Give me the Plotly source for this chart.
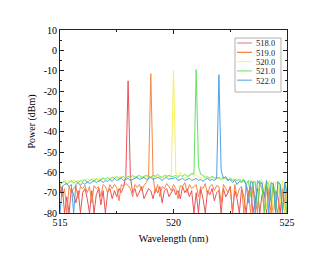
import plotly.graph_objects as go

wavelength = [round(515 + 0.1 * i, 1) for i in range(101)]

p518 = [-70,-67,-80,-72,-80,-68,-71,-75,-69,-80,
        -70,-68,-73,-80,-69,-80,-71,-68,-76,-69,
        -80,-70,-68,-73,-69,-72,-68,-70,-67,-62,
        -15,-62,-70,-68,-72,-69,-67,-73,-70,-68,
        -69,-73,-68,-70,-67,-75,-69,-68,-72,-70,
        -68,-71,-69,-73,-67,-70,-68,-72,-69,-80,
        -70,-80,-68,-73,-80,-69,-71,-68,-74,-70,
        -69,-80,-68,-72,-70,-67,-80,-69,-73,-80,
        -68,-72,-80,-70,-67,-80,-74,-68,-80,-71,
        -70,-80,-68,-74,-80,-69,-72,-80,-68,-75,-80]

p519 = [-66,-72,-68,-80,-67,-70,-68,-66.5,-73,-67,
        -68,-66.5,-70,-67,-75,-66.5,-68,-67,-72,-66,
        -67,-70,-66,-68,-66,-67.5,-74,-66,-67,-65.5,
        -66.5,-68,-72,-66,-67.5,-66,-69,-66.5,-65,-63,
        -11.5,-62,-70,-66,-72,-67,-68,-65.5,-67,-69,
        -66,-68,-73,-66.5,-67,-65,-70,-66,-68,-67,
        -66,-72,-67,-68,-65.5,-71,-67,-66,-69,-66.5,
        -67,-75,-66,-68,-70,-67,-80,-66,-72,-68,
        -67,-80,-66,-70,-80,-67,-74,-80,-66,-68,
        -80,-67,-72,-80,-66,-75,-80,-67,-70,-80,-68]

p520 = [-64,-65.5,-63.5,-65,-64,-65,-63.5,-64.5,-64,-65,
        -63.5,-64.5,-63,-64,-63.5,-63,-64,-63,-63.5,-62.5,
        -63,-63.5,-62.5,-63,-62,-63,-62.5,-62,-63,-62.5,
        -62,-63,-62.5,-62,-63,-62.5,-62,-63,-62,-62.5,
        -62,-62.5,-61.5,-62.5,-62,-63,-62,-61.5,-62.5,-61,
        -10,-60,-62,-60,-61,-63,-62.5,-62,-61,-62,
        -61,-62.5,-63,-62,-63,-62.5,-63,-62,-63.5,-62.5,
        -63,-62.5,-63.5,-63,-64,-62.5,-63.5,-64,-63,-64,
        -63,-64,-64.5,-65,-63.5,-66,-64,-72,-65,-64,
        -66,-78,-64,-65,-80,-64.5,-66,-75,-64,-80,-66]

p521 = [-66,-65,-64.5,-66,-65,-64,-65.5,-64.5,-65,-64,
        -64.5,-63.5,-65,-64,-63.5,-64.5,-63,-64,-63.5,-63,
        -63.5,-62.5,-63.5,-62.5,-63,-62,-63,-62.5,-62,-63,
        -62,-62.5,-61.5,-62.5,-62,-61.5,-62.5,-62,-61.5,-62,
        -62.5,-61.5,-62,-61,-62,-62.5,-61.5,-62,-61.5,-62,
        -62,-61.5,-62.5,-61.5,-62,-61,-62,-61.5,-60.5,-61,
        -9.5,-57,-61,-61.5,-62.5,-62,-63,-62,-62.5,-63,
        -62.5,-63.5,-62.5,-63,-64,-63,-64,-63.5,-64,-63.5,
        -64.5,-63.5,-66,-64,-72,-64.5,-65,-78,-64,-66,
        -80,-64.5,-66,-74,-65,-80,-65,-66,-79,-65,-80]

p522 = [-80,-67,-66,-65.5,-67,-66,-80,-66,-65,-66.5,
        -65,-66,-64.5,-65.5,-65,-64,-65,-64.5,-64,-65,
        -64,-64.5,-63.5,-64.5,-63,-64,-63.5,-63,-64,-63.5,
        -63,-64,-63.5,-63,-62.5,-63.5,-63,-62.5,-63.5,-63,
        -62.5,-63.5,-63,-62.5,-63,-64,-63,-62.5,-63.5,-63,
        -63,-62.5,-64,-63.5,-63,-64,-63.5,-63,-64,-63.5,
        -63,-64,-63.5,-64.5,-63.5,-63,-64,-63.5,-64,-63,
        -12,-59,-63,-62,-64,-63.5,-65,-64,-66,-64.5,
        -65,-64,-66,-75,-64.5,-65,-80,-64,-66,-65,
        -72,-64,-80,-65,-66,-80,-64.5,-66,-80,-65,-70]

series_names = ["518.0", "519.0", "520.0", "521.0", "522.0"]
series_values = [p518, p519, p520, p521, p522]
colors = ["#e8404a", "#f47c32", "#f4f050", "#52e052", "#3f97e2"]
legend_colors = ["#f08a8e", "#f47c32", "#f8f47a", "#7ee47e", "#6ab0ec"]

y_ticks = [10, 0, -10, -20, -30, -40, -50, -60, -70, -80]
y_ticktext = ["10", "0", "-10", "-20", "-30", "-40", "-50", "-60", "-70", "-80"]
x_ticks = [515, 520, 525]

fig = go.Figure()
for name, vals, c in zip(series_names, series_values, colors):
    fig.add_trace(go.Scatter(x=wavelength, y=vals, mode="lines", name=name,
                             line=dict(color=c, width=1), opacity=0.9,
                             showlegend=False))

font_family = "Liberation Serif"
text_color = "#000000"

# manual legend (paper coords inside plot area 60..287 x 30..213)
W, H, L, T = 227.0, 183.0, 60.0, 30.0
def px(xp):
    return (xp - L) / W
def py(yp):
    return 1 - (yp - T) / H

shapes = [dict(type="rect", xref="paper", yref="paper",
               x0=px(235), x1=px(281), y0=py(92), y1=py(38),
               line=dict(color="#b0b0b0", width=1), fillcolor="white", layer="above")]
annotations = []
for k, (name, lc) in enumerate(zip(series_names, legend_colors)):
    yy = 43 + 9.3 * k
    shapes.append(dict(type="line", xref="paper", yref="paper",
                       x0=px(237), x1=px(252), y0=py(yy), y1=py(yy),
                       line=dict(color=lc, width=1.2), layer="above"))
    annotations.append(dict(xref="paper", yref="paper", x=px(255), y=py(yy),
                            text=name, showarrow=False, xanchor="left", yanchor="middle",
                            height=9, borderpad=0,
                            font=dict(family=font_family, size=8.5, color="#222")))

fig.update_layout(
    width=334, height=256,
    margin=dict(l=60, r=47, t=30, b=43),
    paper_bgcolor="white", plot_bgcolor="white",
    font=dict(family=font_family, size=10, color=text_color),
    showlegend=False,
    shapes=shapes, annotations=annotations,
    xaxis=dict(range=[515, 525], tickvals=x_ticks, ticktext=[str(v) for v in x_ticks],
               ticks="inside", ticklen=4, tickcolor="#222", showline=True, linecolor="#222",
               linewidth=1, mirror="ticks", showgrid=False, zeroline=False,
               tickfont=dict(family=font_family, size=10, color=text_color),
               minor=dict(ticks="inside", dtick=2.5, tick0=515, ticklen=2, tickcolor="#222"),
               title=dict(text="Wavelength (nm)", font=dict(family=font_family, size=10, color=text_color), standoff=7)),
    yaxis=dict(range=[-80, 10], tickvals=y_ticks, ticktext=y_ticktext,
               ticks="inside", ticklen=4, tickcolor="#222", showline=True, linecolor="#222",
               linewidth=1, mirror="ticks", showgrid=False, zeroline=False,
               tickfont=dict(family=font_family, size=10, color=text_color),
               minor=dict(ticks="inside", dtick=5, tick0=0, ticklen=2, tickcolor="#222"),
               title=dict(text="Power (dBm)", font=dict(family=font_family, size=10, color=text_color), standoff=6)),
)

fig.write_html("out.html")
